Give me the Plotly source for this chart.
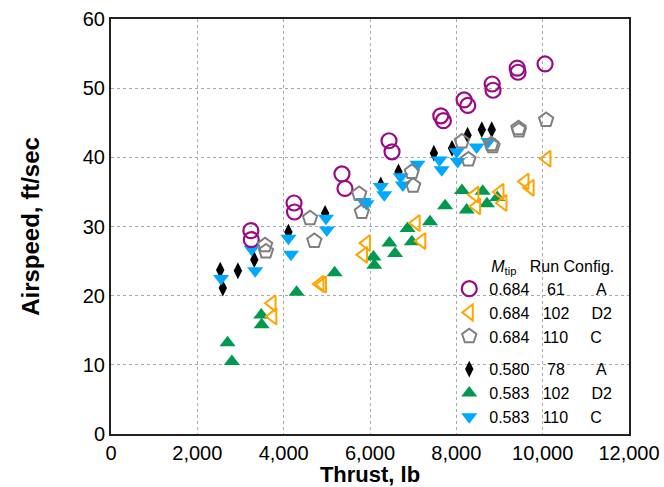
import plotly.graph_objects as go

# ---- data ----
a61_x = [3240, 3250, 4240, 4250, 5350, 5420, 6440, 6510, 7640, 7700, 8180, 8265, 8830, 8850, 9410, 9430, 10055]
a61_y = [29.4, 28.1, 33.4, 32.1, 37.6, 35.5, 42.4, 40.8, 46.0, 45.3, 48.3, 47.5, 50.6, 49.7, 52.9, 52.3, 53.5]

d102_x = [3730, 3750, 4840, 4900, 5850, 5920, 7070, 7200, 8430, 8470, 9010, 9080, 9590, 9710, 10100]
d102_y = [18.9, 17.0, 21.7, 21.6, 25.9, 27.6, 30.5, 27.9, 34.6, 32.9, 35.0, 33.4, 36.5, 35.6, 39.8]

c110_x = [3570, 3590, 4610, 4710, 5750, 5810, 6970, 7000, 8130, 8280, 8810, 8840, 9440, 9450, 10080]
c110_y = [27.3, 26.4, 31.2, 27.9, 34.7, 32.1, 37.9, 35.9, 42.3, 39.7, 41.9, 41.6, 44.2, 43.9, 45.4]

a78_x = [2530, 2590, 2940, 3320, 4110, 4960, 6250, 6660, 7480, 7900, 8260, 8590, 8820]
a78_y = [23.7, 21.1, 23.6, 25.2, 29.2, 31.9, 36.0, 37.9, 40.6, 41.3, 43.2, 44.0, 44.0]

d102b_x = [2700, 2800, 3480, 3490, 4300, 5180, 6080, 6100, 6450, 6580, 6870, 6970, 7390, 7740, 8130, 8240, 8610, 8710, 8950]
d102b_y = [13.2, 10.5, 17.2, 15.8, 20.5, 23.3, 25.6, 24.4, 27.6, 26.1, 29.7, 27.8, 30.7, 33.0, 35.2, 32.4, 35.1, 33.3, 34.2]

c110b_x = [2550, 3260, 3340, 4110, 4170, 4980, 5000, 5850, 5920, 6250, 6330, 6710, 6760, 7100, 7610, 7660, 8010, 8030, 8470, 8740]
c110b_y = [22.5, 26.7, 23.6, 28.3, 26.0, 31.2, 29.5, 33.6, 33.3, 35.8, 34.6, 37.2, 36.0, 39.0, 39.6, 38.2, 40.8, 39.4, 41.5, 42.3]

x_ticks = [0, 2000, 4000, 6000, 8000, 10000, 12000]
y_ticks = [0, 10, 20, 30, 40, 50, 60]

NB = "\u00a0"
def lab(m, run, cfg):
    pre = 4 if len(run) == 2 else 3
    post = 7 if len(run) == 2 else 5
    return m + NB * pre + run + NB * post + cfg

FONT = "Arial, Liberation Sans, Helvetica, sans-serif"

fig = go.Figure()

# 0.58x series first (drawn beneath)
fig.add_trace(go.Scatter(x=a78_x, y=a78_y, mode="markers", name=lab("0.580", "78", "A"),
                         legendgroup="g2", legendrank=4,
                         marker=dict(symbol="diamond-tall", size=12, color="black", line=dict(width=0))))
fig.add_trace(go.Scatter(x=d102b_x, y=d102b_y, mode="markers", name=lab("0.583", "102", "D2"),
                         legendgroup="g2", legendrank=5,
                         marker=dict(symbol="triangle-up", size=14, color="#00994f", line=dict(width=0))))
fig.add_trace(go.Scatter(x=c110b_x, y=c110b_y, mode="markers", name=lab("0.583", "110", "C"),
                         legendgroup="g2", legendrank=6,
                         marker=dict(symbol="triangle-down", size=14, color="#00a8ff", line=dict(width=0))))
fig.add_trace(go.Scatter(x=a61_x, y=a61_y, mode="markers", name=lab("0.684", "61", "A"),
                         legendgroup="g1", legendrank=1,
                         marker=dict(symbol="circle-open", size=15, color="#9b0a85", line=dict(width=2.2))))
fig.add_trace(go.Scatter(x=d102_x, y=d102_y, mode="markers", name=lab("0.684", "102", "D2"),
                         legendgroup="g1", legendrank=2,
                         marker=dict(symbol="triangle-left-open", size=14, color="#ffa500", line=dict(width=2))))
fig.add_trace(go.Scatter(x=c110_x, y=c110_y, mode="markers", name=lab("0.684", "110", "C"),
                         legendgroup="g1", legendrank=3,
                         marker=dict(symbol="pentagon-open", size=15, color="#808080", line=dict(width=2))))

# white backing behind the legend (hides horizontal grid there, keeps the 8000 grid line)
fig.add_shape(type="rect", xref="paper", yref="paper", x0=0.6685, x1=1.0, y0=0.0, y1=0.42,
              fillcolor="white", line=dict(width=0), layer="between")

axis_common = dict(showline=True, mirror=True, linecolor="#222222", linewidth=2,
                   showgrid=True, gridcolor="#a8a8a8", gridwidth=1, griddash="dot",
                   zeroline=False, ticks="", automargin=False,
                   tickfont=dict(family=FONT, size=20, color="black"))

fig.update_xaxes(range=[0, 12000], tickvals=x_ticks, tickformat=",d",
                 title=dict(text="<b>Thrust, lb</b>", font=dict(family=FONT, size=22, color="black"), standoff=7),
                 **axis_common)
fig.update_yaxes(range=[0, 60], tickvals=y_ticks,
                 title=dict(text="<b>Airspeed, ft/sec</b>", font=dict(family=FONT, size=24, color="black"), standoff=36),
                 **axis_common)

fig.update_layout(
    width=664, height=487,
    margin=dict(l=111, r=35, t=19, b=53),
    paper_bgcolor="white", plot_bgcolor="white",
    showlegend=True,
    legend=dict(
        x=0.653, xanchor="left", y=0.0, yanchor="bottom",
        bgcolor="rgba(0,0,0,0)", borderwidth=0,
        font=dict(family=FONT, size=16, color="black"),
        traceorder="grouped", tracegroupgap=9,
        title=dict(text=NB * 9 + "<i>M</i><sub>tip</sub>" + NB * 3 + "Run" + NB + "Config.",
                   font=dict(family=FONT, size=16, color="black")),
    ),
)

fig.write_html("out.html")
